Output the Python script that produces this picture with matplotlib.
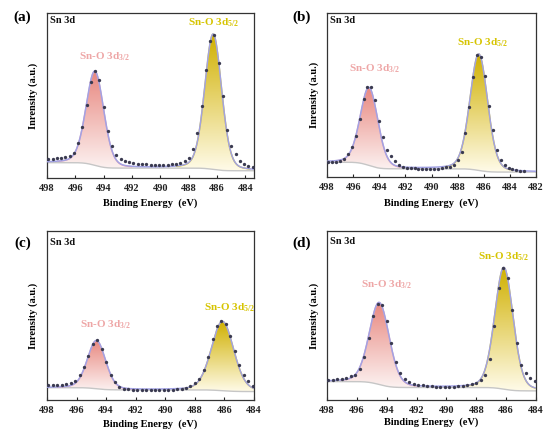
import math
import numpy as np
import matplotlib
matplotlib.use('Agg')
import matplotlib.pyplot as plt
from matplotlib.colors import LinearSegmentedColormap

plt.rcParams['font.family'] = ['Liberation Serif', 'DejaVu Serif']
plt.rcParams['font.weight'] = 'bold'
plt.rcParams['mathtext.fontset'] = 'custom'
plt.rcParams['mathtext.rm'] = 'Liberation Serif:bold'
plt.rcParams['mathtext.bf'] = 'Liberation Serif:bold'
plt.rcParams['mathtext.it'] = 'Liberation Serif:bold'

# ---------------- data ----------------
energy_grid = [497.9, 497.6, 497.3, 497.0, 496.7, 496.4, 496.1, 495.8, 495.5, 495.2,
               494.9, 494.6, 494.3, 494.0, 493.7, 493.4, 493.1, 492.8, 492.5, 492.2,
               491.9, 491.6, 491.3, 491.0, 490.7, 490.4, 490.1, 489.8, 489.5, 489.2,
               488.9, 488.6, 488.3, 488.0, 487.7, 487.4, 487.1, 486.8, 486.5, 486.2,
               485.9, 485.6, 485.3, 485.0, 484.7, 484.4, 484.1, 483.8, 483.5, 483.2,
               482.9]

intensity_a = [11.6, 11.8, 11.9, 12.1, 12.6, 13.3, 15.2, 21.0, 31.0, 44.5,
               58.2, 65.0, 59.5, 43.0, 28.7, 19.5, 14.0, 11.4, 10.4, 9.6,
               9.1, 8.7, 8.4, 8.2, 8.1, 8.0, 8.0, 8.0, 8.1, 8.3,
               8.6, 9.2, 10.3, 12.3, 17.5, 27.0, 43.5, 65.5, 83.0, 86.5,
               69.5, 49.5, 29.0, 19.5, 14.6, 10.6, 8.2, 7.4, 6.8]

intensity_b = [8.9, 9.0, 9.3, 9.8, 11.0, 14.0, 18.5, 25.0, 35.5, 47.8,
               54.8, 54.6, 47.2, 34.0, 24.3, 16.2, 12.5, 9.5, 7.3, 6.0,
               5.6, 5.4, 5.2, 5.0, 4.8, 4.7, 4.8, 4.9, 5.1, 5.5,
               5.8, 6.1, 7.1, 10.2, 15.5, 27.0, 42.8, 61.0, 74.5, 73.0,
               61.5, 43.3, 28.5, 16.5, 10.3, 7.4, 5.3, 4.6, 4.1, 3.8,
               3.5]

intensity_c = [8.9, 8.9, 8.9, 9.0, 9.3, 9.9, 11.0, 14.5, 19.5, 26.3,
               32.9, 35.3, 30.0, 22.5, 14.6, 10.5, 7.8, 6.8, 6.4, 6.1,
               6.0, 5.9, 5.8, 5.8, 5.8, 5.8, 5.9, 6.0, 6.1, 6.3,
               6.6, 7.1, 8.0, 10.0, 12.5, 17.5, 25.5, 36.0, 44.0, 46.5,
               45.0, 38.0, 29.0, 21.0, 15.0, 11.0, 8.2]

intensity_d = [11.8, 12.0, 12.2, 12.4, 13.0, 14.0, 14.5, 18.5, 25.5, 36.5,
               49.5, 57.0, 56.0, 47.0, 34.0, 22.5, 16.0, 12.7, 10.6, 9.6,
               9.0, 8.6, 8.2, 8.0, 7.8, 7.7, 7.7, 7.7, 7.9, 8.2,
               8.5, 8.9, 9.5, 10.3, 11.8, 14.7, 24.5, 44.0, 66.5, 78.0,
               72.0, 53.5, 34.0, 21.0, 16.0, 12.8, 11.0]

# fitted components: (centre eV, height, FWHM eV)
fit_3d32 = {'a': (494.62, 57.0, 1.48), 'b': (494.78, 47.5, 1.60),
            'c': (494.65, 28.5, 1.45), 'd': (494.50, 48.5, 1.58)}
fit_3d52 = {'a': (486.28, 82.0, 1.40), 'b': (486.38, 71.0, 1.60),
            'c': (486.13, 41.0, 1.78), 'd': (486.15, 72.0, 1.45)}
# Shirley-type background levels: (left, between peaks, right)
bg_levels = {'a': (9.3, 6.0, 4.4), 'b': (9.0, 5.0, 3.0),
             'c': (7.3, 6.0, 5.0), 'd': (10.9, 7.4, 5.4)}

panels = ['a', 'b', 'c', 'd']
intensities = {'a': intensity_a, 'b': intensity_b, 'c': intensity_c, 'd': intensity_d}
x_limits = {'a': (498, 483.4), 'b': (498, 482), 'c': (498, 484), 'd': (498, 484)}
x_ticks = {'a': [498, 496, 494, 492, 490, 488, 486, 484],
           'b': [498, 496, 494, 492, 490, 488, 486, 484, 482],
           'c': [498, 496, 494, 492, 490, 488, 486, 484],
           'd': [498, 496, 494, 492, 490, 488, 486, 484]}
label_32 = r'Sn-O 3d$_{3/2}$'
label_52 = r'Sn-O 3d$_{5/2}$'

# ---------------- layout ----------------
W, H = 550, 436
fig = plt.figure(figsize=(W / 100, H / 100), dpi=100)

rects_px = {'a': (47, 13, 254, 178), 'b': (327, 13, 536, 177),
            'c': (47, 231, 254, 400), 'd': (327, 231, 536, 400)}
panel_lab_px = {'a': (22, 17), 'b': (302, 17), 'c': (23, 243), 'd': (302, 243)}
lab32_pos = {'a': (493.95, 73.3), 'b': (494.38, 66.3), 'c': (494.06, 44.8), 'd': (494.03, 68.1)}
lab52_pos = {'a': (486.25, 94.0), 'b': (486.12, 82.1), 'c': (485.67, 54.8), 'd': (486.19, 84.7)}
sn3d_y = {'a': 0.955, 'b': 0.955, 'c': 0.93, 'd': 0.935}
ylab_x = {'a': -0.068, 'b': -0.061, 'c': -0.066, 'd': -0.061}
xlab_y = {'a': -0.152, 'b': -0.162, 'c': -0.142, 'd': -0.13}

pink_line = '#f0a4aa'
pink_fill = '#e88880'
pink_low = '#fcf1f0'
yel_line = '#e2d000'
yel_fill = '#d0b000'
yel_low = '#fffbe9'
env_col = '#a2a2e4'
bg_col = '#c6c6c6'
dot_col = '#3a3a50'
lab_pink = '#eea6a6'
lab_yel = '#d6c400'


def pvoigt(e, c, a, w, eta=0.2):
    d = e - c
    g = np.exp(-4 * math.log(2) * d ** 2 / w ** 2)
    l = 1.0 / (1 + 4 * d ** 2 / w ** 2)
    return a * ((1 - eta) * g + eta * l)


def step(e, c, w):
    return 0.5 * (1 + np.vectorize(math.erf)((e - c) / (0.55 * w)))


def grad_fill(ax, x, base, top, low, color, z):
    poly = ax.fill_between(x, base, top, color='none', lw=0, zorder=z)
    path = poly.get_paths()[0]
    cmap = LinearSegmentedColormap.from_list('g', [low, color])
    grad = np.linspace(0, 1, 256).reshape(-1, 1)
    im = ax.imshow(grad, extent=[x.min(), x.max(), base.min(), top.max()],
                   origin='lower', aspect='auto', cmap=cmap, zorder=z)
    im.set_clip_path(path, transform=ax.transData)


for p in panels:
    l, t, r, b = rects_px[p]
    ax = fig.add_axes([l / W, 1 - b / H, (r - l) / W, (b - t) / H])
    vals = intensities[p]
    e_pts = np.array(energy_grid[:len(vals)])
    xmax, xmin = x_limits[p]
    e = np.linspace(xmax, xmin, 700)

    c1, a1, w1 = fit_3d32[p]
    c2, a2, w2 = fit_3d52[p]
    bl, bm, br = bg_levels[p]
    bg = br + (bm - br) * step(e, c2, w2) + (bl - bm) * step(e, c1, w1)
    comp1 = bg + pvoigt(e, c1, a1, w1)
    comp2 = bg + pvoigt(e, c2, a2, w2)
    env = bg + pvoigt(e, c1, a1, w1) + pvoigt(e, c2, a2, w2)

    m1 = np.abs(e - c1) < 2.6
    m2 = np.abs(e - c2) < 2.6
    grad_fill(ax, e[m1], bg[m1], comp1[m1], pink_low, pink_fill, 1)
    grad_fill(ax, e[m2], bg[m2], comp2[m2], yel_low, yel_fill, 1)
    ax.plot(e, bg, color=bg_col, lw=1.0, zorder=2)
    ax.plot(e[m1], comp1[m1], color=pink_line, lw=1.0, zorder=3)
    ax.plot(e[m2], comp2[m2], color=yel_line, lw=1.0, zorder=3)
    ax.plot(e, env, color=env_col, lw=1.1, zorder=4)
    ax.plot(e_pts, vals, 'o', ms=2.4, color=dot_col, mec='none', zorder=5)

    ax.set_xlim(xmax, xmin)
    ax.set_ylim(0, 100)
    ax.set_xticks(x_ticks[p])
    ax.set_yticks([])
    ax.tick_params(axis='x', direction='in', length=2.5, width=0.8, pad=4,
                   labelsize=7.5, colors='#222222')
    for lab in ax.get_xticklabels():
        lab.set_fontweight('bold')
    for s in ax.spines.values():
        s.set_linewidth(0.9)
        s.set_color('#333333')

    ax.set_xlabel('Binding Energy  (eV)', fontsize=7.5, fontweight='bold')
    ax.xaxis.set_label_coords(0.5, xlab_y[p])
    ax.xaxis.label.set_va('center')
    ax.set_ylabel('Inrensity (a.u.)', fontsize=7.5, fontweight='bold')
    ax.yaxis.set_label_coords(ylab_x[p], 0.5)
    ax.yaxis.label.set_va('center')

    ax.text(0.015, sn3d_y[p], 'Sn 3d', transform=ax.transAxes, ha='left',
            va='center', fontsize=7.5, fontweight='bold', color='#111111')
    ax.text(*lab32_pos[p], label_32, ha='center', va='center', fontsize=8,
            fontweight='bold', color=lab_pink, zorder=6)
    ax.text(*lab52_pos[p], label_52, ha='center', va='center', fontsize=8,
            fontweight='bold', color=lab_yel, zorder=6)

    px, py = panel_lab_px[p]
    fig.text(px / W, 1 - py / H, '(%s)' % p, ha='center', va='center',
             fontsize=11, fontweight='bold')

fig.savefig('out.png', dpi=100)
